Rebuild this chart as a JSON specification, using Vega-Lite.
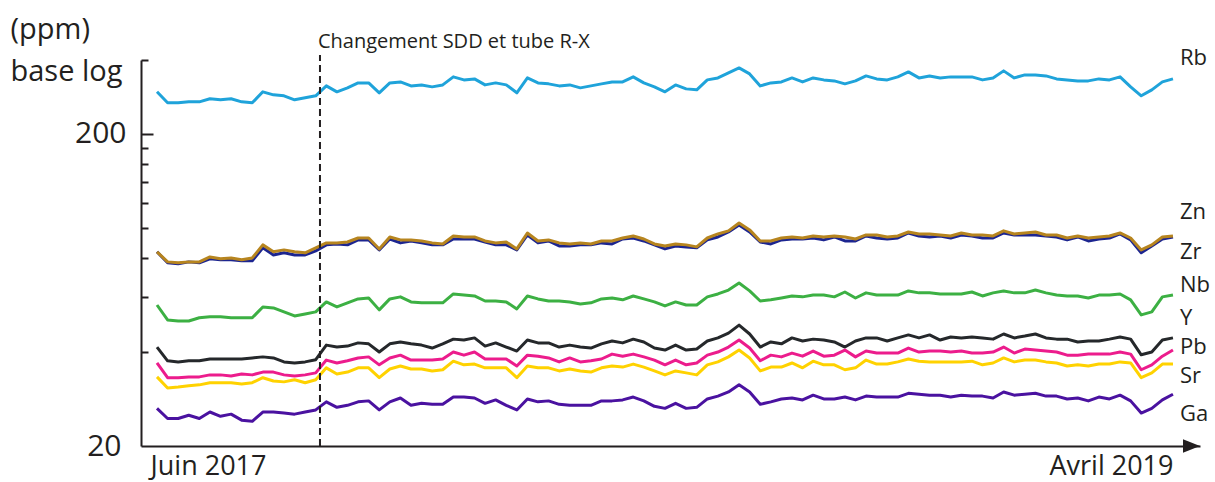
{
"$schema": "https://vega.github.io/schema/vega-lite/v6.json",
"width": 1059, "height": 386,
"autosize": {"type": "none"},
"padding": {"left": 141, "top": 60, "right": 15, "bottom": 36},
"background": "white",
"config": {"view": {"stroke": null}, "font": "Open Sans", "text": {"font": "Open Sans", "color": "#231f20"}},
"datasets": {
"series": [
{"w":0,"Rb":272.8,"Zn":83.8,"Zr":83.8,"Nb":56.6,"Y":41.5,"Pb":36.9,"Sr":33.3,"Ga":26.4},
{"w":1,"Rb":251.6,"Zn":77.8,"Zr":77.3,"Nb":50.7,"Y":37.5,"Pb":33.1,"Sr":30.7,"Ga":24.5},
{"w":2,"Rb":251.6,"Zn":77.3,"Zr":76.7,"Nb":50.3,"Y":37.2,"Pb":33.1,"Sr":30.9,"Ga":24.5},
{"w":3,"Rb":253.4,"Zn":77.8,"Zr":77.8,"Nb":50.3,"Y":37.5,"Pb":33.3,"Sr":31.2,"Ga":25.1},
{"w":4,"Rb":253.4,"Zn":77.8,"Zr":77.3,"Nb":51.5,"Y":37.5,"Pb":33.3,"Sr":31.4,"Ga":24.5},
{"w":5,"Rb":259.1,"Zn":80.7,"Zr":79.6,"Nb":51.9,"Y":38.0,"Pb":33.8,"Sr":31.9,"Ga":25.7},
{"w":6,"Rb":257.2,"Zn":79.6,"Zr":79.0,"Nb":51.9,"Y":38.0,"Pb":33.8,"Sr":31.9,"Ga":24.9},
{"w":7,"Rb":259.1,"Zn":80.1,"Zr":79.0,"Nb":51.5,"Y":38.0,"Pb":33.5,"Sr":31.9,"Ga":25.3},
{"w":8,"Rb":253.4,"Zn":79.0,"Zr":78.4,"Nb":51.5,"Y":38.0,"Pb":34.0,"Sr":31.6,"Ga":24.2},
{"w":9,"Rb":251.6,"Zn":80.1,"Zr":78.4,"Nb":51.5,"Y":38.3,"Pb":33.8,"Sr":31.9,"Ga":24.0},
{"w":10,"Rb":272.8,"Zn":88.2,"Zr":86.3,"Nb":55.8,"Y":38.6,"Pb":34.5,"Sr":33.1,"Ga":25.7},
{"w":11,"Rb":266.8,"Zn":83.8,"Zr":81.9,"Nb":55.4,"Y":38.3,"Pb":34.5,"Sr":32.3,"Ga":25.7},
{"w":12,"Rb":264.9,"Zn":85.0,"Zr":83.2,"Nb":53.8,"Y":37.2,"Pb":33.8,"Sr":32.1,"Ga":25.5},
{"w":13,"Rb":257.2,"Zn":83.8,"Zr":81.9,"Nb":52.2,"Y":36.9,"Pb":33.5,"Sr":32.6,"Ga":25.3},
{"w":14,"Rb":261.0,"Zn":83.2,"Zr":81.9,"Nb":53.0,"Y":37.2,"Pb":33.8,"Sr":31.9,"Ga":25.7},
{"w":15,"Rb":264.9,"Zn":86.3,"Zr":84.4,"Nb":53.8,"Y":37.8,"Pb":34.3,"Sr":32.6,"Ga":26.1},
{"w":16,"Rb":285.0,"Zn":89.5,"Zr":88.2,"Nb":57.9,"Y":42.1,"Pb":37.7,"Sr":35.6,"Ga":27.7},
{"w":17,"Rb":272.8,"Zn":89.5,"Zr":88.8,"Nb":55.8,"Y":41.5,"Pb":36.9,"Sr":34.0,"Ga":26.6},
{"w":18,"Rb":280.9,"Zn":90.1,"Zr":88.2,"Nb":57.5,"Y":41.8,"Pb":37.5,"Sr":34.5,"Ga":27.0},
{"w":19,"Rb":291.4,"Zn":92.8,"Zr":91.5,"Nb":59.2,"Y":42.8,"Pb":38.3,"Sr":35.6,"Ga":27.7},
{"w":20,"Rb":291.4,"Zn":92.8,"Zr":91.5,"Nb":59.6,"Y":42.5,"Pb":38.6,"Sr":35.6,"Ga":27.9},
{"w":21,"Rb":270.8,"Zn":85.6,"Zr":85.0,"Nb":54.6,"Y":40.0,"Pb":36.4,"Sr":33.1,"Ga":26.1},
{"w":22,"Rb":291.4,"Zn":93.5,"Zr":92.1,"Nb":59.2,"Y":42.5,"Pb":38.3,"Sr":35.3,"Ga":27.7},
{"w":23,"Rb":293.5,"Zn":91.5,"Zr":89.5,"Nb":60.1,"Y":43.1,"Pb":39.1,"Sr":36.1,"Ga":28.5},
{"w":24,"Rb":285.0,"Zn":91.5,"Zr":90.8,"Nb":57.9,"Y":42.5,"Pb":37.7,"Sr":35.3,"Ga":27.0},
{"w":25,"Rb":287.1,"Zn":90.8,"Zr":89.5,"Nb":57.5,"Y":42.1,"Pb":37.7,"Sr":35.3,"Ga":27.4},
{"w":26,"Rb":283.0,"Zn":89.5,"Zr":88.2,"Nb":57.5,"Y":41.2,"Pb":37.7,"Sr":34.8,"Ga":27.2},
{"w":27,"Rb":287.1,"Zn":88.8,"Zr":88.2,"Nb":57.5,"Y":42.5,"Pb":38.0,"Sr":35.1,"Ga":27.2},
{"w":28,"Rb":304.6,"Zn":94.2,"Zr":92.1,"Nb":61.4,"Y":44.0,"Pb":40.0,"Sr":37.4,"Ga":28.7},
{"w":29,"Rb":297.9,"Zn":93.5,"Zr":92.1,"Nb":60.9,"Y":43.7,"Pb":39.1,"Sr":36.4,"Ga":28.7},
{"w":30,"Rb":300.1,"Zn":93.5,"Zr":92.1,"Nb":60.5,"Y":44.4,"Pb":40.0,"Sr":36.6,"Ga":28.5},
{"w":31,"Rb":287.1,"Zn":90.8,"Zr":90.1,"Nb":58.3,"Y":41.8,"Pb":38.0,"Sr":35.6,"Ga":27.4},
{"w":32,"Rb":291.4,"Zn":89.5,"Zr":88.2,"Nb":58.3,"Y":42.8,"Pb":38.0,"Sr":35.6,"Ga":28.1},
{"w":33,"Rb":287.1,"Zn":90.1,"Zr":88.2,"Nb":57.9,"Y":41.5,"Pb":38.0,"Sr":35.6,"Ga":27.0},
{"w":34,"Rb":270.8,"Zn":85.6,"Zr":85.0,"Nb":55.0,"Y":40.3,"Pb":36.1,"Sr":33.1,"Ga":26.1},
{"w":35,"Rb":302.3,"Zn":96.3,"Zr":94.9,"Nb":60.5,"Y":43.7,"Pb":39.1,"Sr":36.1,"Ga":28.3},
{"w":36,"Rb":291.4,"Zn":90.8,"Zr":89.5,"Nb":59.2,"Y":42.8,"Pb":38.8,"Sr":35.6,"Ga":27.7},
{"w":37,"Rb":289.3,"Zn":91.5,"Zr":90.8,"Nb":58.3,"Y":42.8,"Pb":38.3,"Sr":35.6,"Ga":27.9},
{"w":38,"Rb":285.0,"Zn":89.5,"Zr":87.5,"Nb":58.3,"Y":41.5,"Pb":37.2,"Sr":34.8,"Ga":27.2},
{"w":39,"Rb":287.1,"Zn":88.8,"Zr":87.5,"Nb":57.9,"Y":42.1,"Pb":38.3,"Sr":35.3,"Ga":27.0},
{"w":40,"Rb":280.9,"Zn":89.5,"Zr":88.2,"Nb":57.0,"Y":41.5,"Pb":37.2,"Sr":34.8,"Ga":27.0},
{"w":41,"Rb":285.0,"Zn":88.8,"Zr":88.2,"Nb":57.5,"Y":41.2,"Pb":37.5,"Sr":34.5,"Ga":27.0},
{"w":42,"Rb":289.3,"Zn":90.8,"Zr":89.5,"Nb":59.2,"Y":42.5,"Pb":38.0,"Sr":35.6,"Ga":27.9},
{"w":43,"Rb":293.5,"Zn":90.8,"Zr":88.8,"Nb":59.6,"Y":43.4,"Pb":39.4,"Sr":36.1,"Ga":27.9},
{"w":44,"Rb":293.5,"Zn":92.8,"Zr":92.1,"Nb":58.8,"Y":42.8,"Pb":38.8,"Sr":35.8,"Ga":28.1},
{"w":45,"Rb":304.6,"Zn":94.2,"Zr":92.8,"Nb":60.5,"Y":44.0,"Pb":39.4,"Sr":36.6,"Ga":28.7},
{"w":46,"Rb":291.4,"Zn":92.1,"Zr":90.8,"Nb":59.2,"Y":43.1,"Pb":38.6,"Sr":35.8,"Ga":27.9},
{"w":47,"Rb":283.0,"Zn":88.8,"Zr":88.2,"Nb":57.9,"Y":41.2,"Pb":37.7,"Sr":34.8,"Ga":26.8},
{"w":48,"Rb":272.8,"Zn":87.5,"Zr":85.6,"Nb":56.2,"Y":40.6,"Pb":36.4,"Sr":33.8,"Ga":26.4},
{"w":49,"Rb":287.1,"Zn":88.8,"Zr":87.5,"Nb":57.9,"Y":42.1,"Pb":37.7,"Sr":34.8,"Ga":27.4},
{"w":50,"Rb":278.8,"Zn":88.2,"Zr":86.9,"Nb":56.6,"Y":40.6,"Pb":36.4,"Sr":34.3,"Ga":26.4},
{"w":51,"Rb":276.8,"Zn":86.9,"Zr":86.3,"Nb":56.6,"Y":40.9,"Pb":36.9,"Sr":33.8,"Ga":26.6},
{"w":52,"Rb":297.9,"Zn":92.8,"Zr":91.5,"Nb":60.1,"Y":43.4,"Pb":39.1,"Sr":36.4,"Ga":28.3},
{"w":53,"Rb":302.3,"Zn":95.6,"Zr":93.5,"Nb":61.4,"Y":44.4,"Pb":40.0,"Sr":37.2,"Ga":28.9},
{"w":54,"Rb":313.7,"Zn":97.8,"Zr":97.0,"Nb":63.2,"Y":46.0,"Pb":41.5,"Sr":38.6,"Ga":29.8},
{"w":55,"Rb":325.5,"Zn":103.7,"Zr":102.2,"Nb":66.6,"Y":48.8,"Pb":43.7,"Sr":40.6,"Ga":31.4},
{"w":56,"Rb":311.4,"Zn":98.5,"Zr":97.0,"Nb":62.8,"Y":45.7,"Pb":41.2,"Sr":38.3,"Ga":29.8},
{"w":57,"Rb":285.0,"Zn":90.8,"Zr":90.1,"Nb":58.3,"Y":41.5,"Pb":37.5,"Sr":34.8,"Ga":27.2},
{"w":58,"Rb":291.4,"Zn":90.8,"Zr":88.8,"Nb":58.8,"Y":43.1,"Pb":39.1,"Sr":35.8,"Ga":27.7},
{"w":59,"Rb":293.5,"Zn":92.8,"Zr":91.5,"Nb":59.6,"Y":42.5,"Pb":38.6,"Sr":35.8,"Ga":28.3},
{"w":60,"Rb":302.3,"Zn":93.5,"Zr":92.1,"Nb":60.5,"Y":44.4,"Pb":39.7,"Sr":36.9,"Ga":28.5},
{"w":61,"Rb":293.5,"Zn":92.8,"Zr":92.1,"Nb":60.1,"Y":43.4,"Pb":38.8,"Sr":35.6,"Ga":28.1},
{"w":62,"Rb":302.3,"Zn":94.2,"Zr":92.8,"Nb":60.9,"Y":44.0,"Pb":40.3,"Sr":37.4,"Ga":29.1},
{"w":63,"Rb":297.9,"Zn":93.5,"Zr":91.5,"Nb":60.9,"Y":43.7,"Pb":38.8,"Sr":36.4,"Ga":28.3},
{"w":64,"Rb":295.7,"Zn":94.2,"Zr":93.5,"Nb":60.1,"Y":43.1,"Pb":39.1,"Sr":36.4,"Ga":28.3},
{"w":65,"Rb":289.3,"Zn":93.5,"Zr":90.8,"Nb":62.3,"Y":41.5,"Pb":40.6,"Sr":35.1,"Ga":28.7},
{"w":66,"Rb":295.7,"Zn":92.1,"Zr":90.8,"Nb":59.6,"Y":43.4,"Pb":38.6,"Sr":35.6,"Ga":28.1},
{"w":67,"Rb":306.8,"Zn":94.9,"Zr":94.2,"Nb":61.9,"Y":44.4,"Pb":40.3,"Sr":37.7,"Ga":28.9},
{"w":68,"Rb":300.1,"Zn":94.9,"Zr":92.8,"Nb":60.9,"Y":44.4,"Pb":39.7,"Sr":36.6,"Ga":28.7},
{"w":69,"Rb":297.9,"Zn":93.5,"Zr":92.1,"Nb":60.9,"Y":43.4,"Pb":39.7,"Sr":36.6,"Ga":28.7},
{"w":70,"Rb":304.6,"Zn":94.2,"Zr":92.8,"Nb":60.9,"Y":44.4,"Pb":39.7,"Sr":37.2,"Ga":28.7},
{"w":71,"Rb":316.0,"Zn":97.0,"Zr":96.3,"Nb":62.8,"Y":45.4,"Pb":41.2,"Sr":38.0,"Ga":29.5},
{"w":72,"Rb":302.3,"Zn":95.6,"Zr":94.2,"Nb":61.9,"Y":44.4,"Pb":40.0,"Sr":37.4,"Ga":29.3},
{"w":73,"Rb":306.8,"Zn":95.6,"Zr":93.5,"Nb":61.9,"Y":45.4,"Pb":40.3,"Sr":37.2,"Ga":29.1},
{"w":74,"Rb":302.3,"Zn":94.9,"Zr":94.2,"Nb":61.4,"Y":43.7,"Pb":40.3,"Sr":37.2,"Ga":29.1},
{"w":75,"Rb":304.6,"Zn":94.2,"Zr":92.8,"Nb":61.4,"Y":44.7,"Pb":40.0,"Sr":37.2,"Ga":28.7},
{"w":76,"Rb":304.6,"Zn":96.3,"Zr":94.9,"Nb":61.4,"Y":44.4,"Pb":40.3,"Sr":37.2,"Ga":29.1},
{"w":77,"Rb":304.6,"Zn":94.9,"Zr":94.2,"Nb":62.3,"Y":44.7,"Pb":39.7,"Sr":37.4,"Ga":28.9},
{"w":78,"Rb":297.9,"Zn":94.9,"Zr":92.8,"Nb":60.5,"Y":44.4,"Pb":39.7,"Sr":36.4,"Ga":28.9},
{"w":79,"Rb":302.3,"Zn":94.2,"Zr":92.8,"Nb":61.9,"Y":44.0,"Pb":40.0,"Sr":36.9,"Ga":28.5},
{"w":80,"Rb":318.4,"Zn":97.8,"Zr":96.3,"Nb":62.8,"Y":45.7,"Pb":41.5,"Sr":38.3,"Ga":29.8},
{"w":81,"Rb":302.3,"Zn":95.6,"Zr":94.9,"Nb":61.9,"Y":44.4,"Pb":39.7,"Sr":37.2,"Ga":29.1},
{"w":82,"Rb":309.1,"Zn":96.3,"Zr":94.9,"Nb":61.9,"Y":45.0,"Pb":40.9,"Sr":37.7,"Ga":29.3},
{"w":83,"Rb":309.1,"Zn":97.0,"Zr":94.9,"Nb":63.2,"Y":45.7,"Pb":40.6,"Sr":37.7,"Ga":29.5},
{"w":84,"Rb":306.8,"Zn":94.9,"Zr":94.2,"Nb":61.9,"Y":44.4,"Pb":40.3,"Sr":37.2,"Ga":28.9},
{"w":85,"Rb":300.1,"Zn":94.9,"Zr":93.5,"Nb":60.9,"Y":44.0,"Pb":40.0,"Sr":36.9,"Ga":28.9},
{"w":86,"Rb":297.9,"Zn":92.8,"Zr":91.5,"Nb":60.5,"Y":44.0,"Pb":39.1,"Sr":36.1,"Ga":28.3},
{"w":87,"Rb":295.7,"Zn":94.2,"Zr":93.5,"Nb":60.5,"Y":43.1,"Pb":39.1,"Sr":36.4,"Ga":28.5},
{"w":88,"Rb":295.7,"Zn":92.8,"Zr":90.8,"Nb":59.6,"Y":43.4,"Pb":39.4,"Sr":36.1,"Ga":27.9},
{"w":89,"Rb":300.1,"Zn":93.5,"Zr":92.1,"Nb":60.9,"Y":43.4,"Pb":39.4,"Sr":36.6,"Ga":28.7},
{"w":90,"Rb":297.9,"Zn":94.2,"Zr":92.8,"Nb":60.9,"Y":44.0,"Pb":39.4,"Sr":36.6,"Ga":28.3},
{"w":91,"Rb":304.6,"Zn":96.3,"Zr":95.6,"Nb":61.4,"Y":44.7,"Pb":40.0,"Sr":37.2,"Ga":29.1},
{"w":92,"Rb":283.0,"Zn":92.8,"Zr":91.5,"Nb":58.8,"Y":44.0,"Pb":39.4,"Sr":36.9,"Ga":27.9},
{"w":93,"Rb":264.9,"Zn":85.0,"Zr":83.2,"Nb":52.6,"Y":39.2,"Pb":35.1,"Sr":33.1,"Ga":25.5},
{"w":94,"Rb":276.8,"Zn":88.2,"Zr":87.5,"Nb":53.8,"Y":40.0,"Pb":36.4,"Sr":34.3,"Ga":26.4},
{"w":95,"Rb":293.5,"Zn":93.5,"Zr":92.1,"Nb":60.1,"Y":43.7,"Pb":38.8,"Sr":36.6,"Ga":28.1},
{"w":96,"Rb":300.1,"Zn":94.2,"Zr":93.5,"Nb":60.9,"Y":44.4,"Pb":40.6,"Sr":36.6,"Ga":29.3}
],
"labels": [
{"w":96,"ppm":350,"el":"Rb"},
{"w":96,"ppm":112.5,"el":"Zn"},
{"w":96,"ppm":83.5,"el":"Zr"},
{"w":96,"ppm":65.5,"el":"Nb"},
{"w":96,"ppm":51.4,"el":"Y"},
{"w":96,"ppm":41.5,"el":"Pb"},
{"w":96,"ppm":33.4,"el":"Sr"},
{"w":96,"ppm":25.3,"el":"Ga"}
],
"change": [{"w":15.4,"ppm":20,"ppm2":358,"note":"Changement SDD et tube R-X","ppmText":377}],
"arrow": [{"w":98.554,"ppm":20}]
},
"encoding": {
"x": {"field": "w", "type": "quantitative",
"scale": {"domain": [-1.512, 98.554], "nice": false, "zero": false},
"axis": {"values": [-0.66, 96], "grid": false, "ticks": false, "title": null,
"domainColor": "#231f20", "domainWidth": 2,
"labelExpr": "datum.value < 50 ? 'Juin 2017' : 'Avril 2019'",
"labelAlign": {"condition": {"test": "datum.value < 50", "value": "left"}, "value": "right"},
"labelBaseline": "alphabetic", "labelPadding": 28, "labelFontSize": 27, "labelColor": "#231f20",
"labelFont": "Open Sans", "labelFlush": false, "labelBound": false, "labelOverlap": false}},
"y": {"field": "ppm", "type": "quantitative",
"scale": {"type": "log", "domain": [20, 345], "nice": false},
"axis": {"values": [20, 40, 60, 80, 100, 120, 140, 160, 180, 200, 345], "grid": false,
"domainColor": "#231f20", "domainWidth": 2, "format": "d",
"tickColor": {"condition": {"test": "datum.value == 20", "value": "transparent"}, "value": "#231f20"},
"tickSize": {"condition": {"test": "datum.value == 200", "value": -12}, "value": -7},
"tickWidth": 2,
"labelExpr": "datum.value == 20 || datum.value == 200 ? datum.label : ''",
"labelFontSize": 30, "labelColor": "#231f20", "labelFont": "Open Sans", "labelPadding": 27,
"labelFlush": false, "labelOverlap": false, "labelBound": false,
"title": ["(ppm)", "base log"], "titleAngle": 0, "titleAlign": "left", "titleBaseline": "alphabetic",
"titleX": -131, "titleY": -22, "titleFontSize": 29, "titleFontWeight": "normal", "titleFont": "Open Sans",
"titleColor": "#231f20", "titleLineHeight": 42}}
},
"layer": [
{"data": {"name": "series"},
"transform": [{"fold": ["Rb", "Zr", "Nb", "Y", "Pb", "Sr", "Ga"], "as": ["el", "ppm"]}],
"mark": {"type": "line", "strokeWidth": 3, "strokeJoin": "round"},
"encoding": {"color": {"field": "el", "type": "nominal", "legend": null,
"scale": {"domain": ["Rb", "Zn", "Zr", "Nb", "Y", "Pb", "Sr", "Ga"],
"range": ["#1fa3da", "#b7851f", "#1c2590", "#3cb043", "#25282b", "#ec1c8c", "#ffd200", "#4a12a0"]}}}},
{"data": {"name": "series"},
"transform": [{"fold": ["Zn"], "as": ["el", "ppm"]}],
"mark": {"type": "line", "strokeWidth": 3, "strokeJoin": "round", "color": "#b7851f"},
"encoding": {}},
{"data": {"name": "change"},
"mark": {"type": "rule", "strokeDash": [7, 4], "strokeWidth": 2, "color": "#231f20"},
"encoding": {"y2": {"field": "ppm2"}}},
{"data": {"name": "change"},
"mark": {"type": "text", "align": "left", "baseline": "alphabetic", "dx": -2, "fontSize": 20, "font": "Open Sans", "color": "#231f20"},
"encoding": {"y": {"field": "ppmText", "type": "quantitative"}, "text": {"field": "note"}}},
{"data": {"name": "labels"},
"mark": {"type": "text", "align": "left", "baseline": "middle", "dx": 7, "fontSize": 22, "font": "Open Sans", "color": "#231f20"},
"encoding": {"text": {"field": "el"}}},
{"data": {"name": "arrow"},
"mark": {"type": "point", "shape": "M -2 -0.8 L 0 0 L -2 0.8 Z", "size": 289, "filled": true, "color": "#231f20", "opacity": 1, "strokeWidth": 0},
"encoding": {}}
]
}
